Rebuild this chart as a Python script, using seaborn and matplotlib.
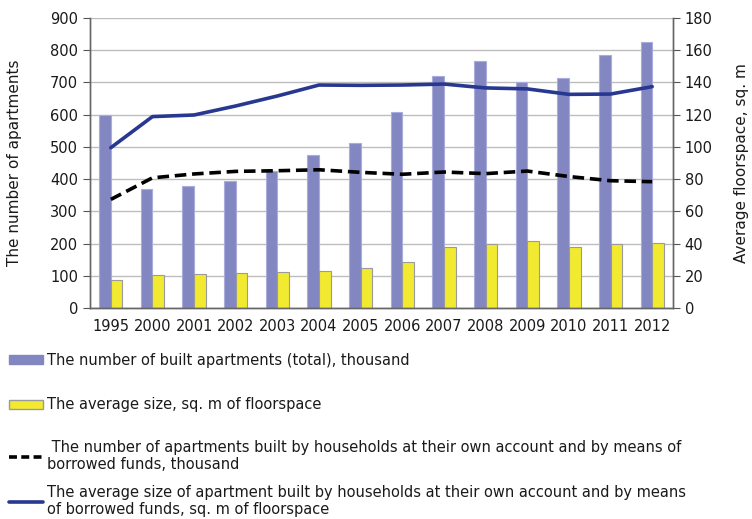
import numpy as np
import pandas as pd
import seaborn as sns
import matplotlib.pyplot as plt
from matplotlib.lines import Line2D
from matplotlib.patches import Patch
from matplotlib.ticker import MultipleLocator

# Datos
years = ["1995", "2000", "2001", "2002", "2003", "2004", "2005",
         "2006", "2007", "2008", "2009", "2010", "2011", "2012"]
built_total = [599, 369, 380, 394, 424, 475, 513, 607, 720, 767, 700, 715, 785, 825]
avg_size = [87, 103, 105, 110, 113, 114, 125, 142, 188, 198, 209, 190, 199, 203]
households_built = [337, 404, 416, 424, 426, 429, 421, 415, 422, 417, 425, 408, 395, 392]
households_avg = [99.5, 118.8, 119.8, 125.4, 131.6, 138.4, 138.2, 138.4, 139.0,
                  136.6, 136.0, 132.6, 132.8, 137.4]

lab_total = "The number of built apartments (total), thousand"
lab_size = "The average size, sq. m of floorspace"
lab_hh = " The number of apartments built by households at their own account and by means of\nborrowed funds, thousand"
lab_hh_avg = "The average size of apartment built by households at their own account and by means\nof borrowed funds, sq. m of floorspace"

c_blue_bar = "#8387C1"
c_yellow = "#F2EA31"
c_line = "#283891"

sns.set_style("white")
plt.rcParams["font.family"] = ["Liberation Sans Narrow", "DejaVu Sans"]
plt.rcParams["font.size"] = 10.5
plt.rcParams["text.color"] = "#1A1A1A"
plt.rcParams["xtick.color"] = "#1A1A1A"
plt.rcParams["ytick.color"] = "#1A1A1A"
plt.rcParams["axes.labelcolor"] = "#1A1A1A"

df = pd.DataFrame({
    "year": years * 2,
    "value": built_total + avg_size,
    "serie": [lab_total] * len(years) + [lab_size] * len(years),
})

fig = plt.figure(figsize=(7.52, 5.19), dpi=100)
ax = fig.add_axes([90 / 752, 1 - 308 / 519, (673 - 90) / 752, 290 / 519])

sns.barplot(data=df, x="year", y="value", hue="serie", order=years,
            palette=[c_blue_bar, c_yellow], width=0.56, saturation=1,
            legend=False, ax=ax)
n = len(years)
for i, p in enumerate(ax.patches[:2 * n]):
    if i < n:
        p.set_edgecolor("#A9ACDD")
    else:
        p.set_edgecolor("#9A9A9A")
    p.set_linewidth(0.8)

x = np.arange(n)
sns.lineplot(x=x, y=households_built, color="black", linestyle=(0, (3.2, 1.6)),
             linewidth=2.6, ax=ax)

ax2 = ax.twinx()
sns.lineplot(x=x, y=households_avg, color=c_line, linewidth=2.6, ax=ax2)

ax.set_xlim(-0.5, n - 0.5)
ax.set_ylim(0, 900)
ax2.set_ylim(0, 180)
ax.yaxis.set_major_locator(MultipleLocator(100))
ax2.yaxis.set_major_locator(MultipleLocator(20))
ax.yaxis.grid(True, color="#BDBDBD", linewidth=1)
ax.set_axisbelow(True)

ax.set_xlabel("")
ax.set_ylabel("The number of apartments", fontsize=11, labelpad=20)
ax2.set_ylabel("Average floorspace, sq. m", fontsize=11, labelpad=15)

# ticks entre categorias, estilo Excel
ax.set_xticks(x)
ax.set_xticklabels(years)
ax.set_xticks(np.arange(-0.5, n, 1), minor=True)
ax.tick_params(axis="x", which="major", length=0, pad=8)
ax.tick_params(axis="x", which="minor", length=5, color="#555555", direction="out")
ax.tick_params(axis="y", length=5, color="#555555", direction="out", left=True)
ax2.tick_params(axis="y", length=5, color="#555555", direction="out", right=True)

for a in (ax, ax2):
    a.spines["top"].set_visible(False)
    for s in ("left", "right", "bottom"):
        a.spines[s].set_color("#666666")
        a.spines[s].set_linewidth(1)

# Leyenda: una entrada por fila, como en el original
handles = [
    Patch(facecolor=c_blue_bar, edgecolor=c_blue_bar),
    Patch(facecolor=c_yellow, edgecolor="#9A9A9A"),
    Line2D([], [], color="black", linestyle=(0, (2.2, 1.2)), linewidth=2.6),
    Line2D([], [], color=c_line, linewidth=2.6),
]
labels = [lab_total, lab_size, lab_hh, lab_hh_avg]
rows_y = [360, 405, 456, 501]
for h, l, yy in zip(handles, labels, rows_y):
    fig.legend([h], [l], loc="center left",
               bbox_to_anchor=(0.012, 1 - yy / 519),
               frameon=False, handlelength=2.3, handleheight=0.6,
               handletextpad=0.3, borderaxespad=0, borderpad=0,
               fontsize=10.5)

plt.savefig("out.png", dpi=100)
